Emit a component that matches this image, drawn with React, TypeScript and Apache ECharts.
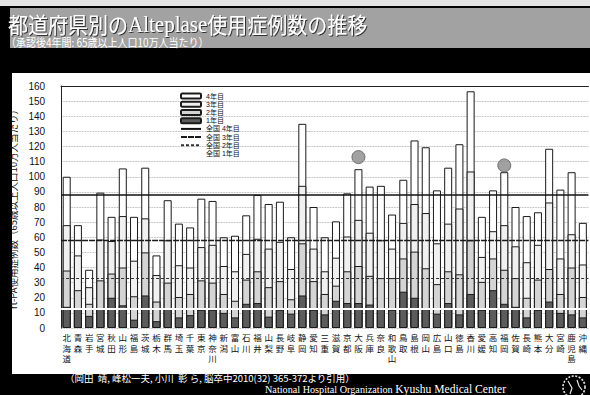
import { useEffect, useRef } from 'react';
import * as echarts from 'echarts';

// Prefectures in JIS order
const prefectures = [
  '北海道', '青森', '岩手', '宮城', '秋田', '山形', '福島', '茨城', '栃木', '群馬',
  '埼玉', '千葉', '東京', '神奈川', '新潟', '富山', '石川', '福井', '山梨', '長野',
  '岐阜', '静岡', '愛知', '三重', '滋賀', '京都', '大阪', '兵庫', '奈良', '和歌山',
  '鳥取', '島根', '岡山', '広島', '山口', '徳島', '香川', '愛媛', '高知', '福岡',
  '佐賀', '長崎', '熊本', '大分', '宮崎', '鹿児島', '沖縄',
];

// Cumulative cases per 100k population aged 65+, through each year after approval
const year1Cum = [
  14, 13, 8, 13, 20, 15, 5.5, 21.5, 4.5, 13,
  7, 8.5, 12, 12, 10, 7, 16, 16.5, 7.5, 12,
  9.5, 21.5, 12, 9, 18, 16.5, 16.5, 15.5, 13, 12,
  24, 20, 12.5, 9.5, 16.5, 9, 22.5, 12, 25, 16,
  14, 7, 12, 17.5, 10, 9, 7,
];
const year2Cum = [
  38, 25, 16, 31.5, 36, 40, 21, 50, 17.5, 30,
  20.5, 22.5, 31.5, 30, 22.5, 18, 32, 37.5, 27, 31,
  19, 56, 31, 22.5, 28, 37.5, 41, 34.5, 33, 33,
  46, 50.5, 39.5, 29, 37.5, 35.5, 58, 30.5, 46, 38.5,
  33, 20, 32, 39, 22.5, 40, 20.5,
];
const year3Cum = [
  68, 48, 27, 58.5, 57.5, 74, 44.5, 72.5, 35, 58,
  41.5, 40, 53.5, 55, 41, 37.5, 49, 59, 52.5, 57,
  39, 94, 52.5, 37.5, 46.5, 60.5, 71.5, 63, 58, 52.5,
  69.5, 82, 76, 56, 69, 79, 103.5, 47, 64, 68,
  54, 43.5, 55, 83, 46, 62, 42,
];
const year4Cum = [
  100, 68, 38.5, 89.5, 73.5, 105.5, 73.5, 106, 48, 84.5,
  69, 66.5, 85.5, 84, 60, 61, 74.5, 88, 82, 83.5,
  60, 135, 80, 60, 70.5, 89, 105, 93.5, 94, 75,
  98, 124, 119.5, 91, 106, 121.5, 156.5, 73.5, 91, 103,
  80, 74, 76.5, 118.5, 91.5, 103, 69.5,
];

// National averages (cumulative)
const nationalNames = ['全国 4年目', '全国 3年目', '全国 2年目', '全国 1年目'];
const nationalValues = [88, 58, 33, 13];

// Highlighted prefectures
const markedPrefectures = ['大阪', '福岡'];
const markedValues = [113, 107.5];

const yMin = 0;
const yMax = 160;
const yStep = 10;

const barNames = ['4年目', '3年目', '2年目', '1年目'];
const barSeriesData = [year4Cum, year3Cum, year2Cum, year1Cum];
const barFills = ['#ffffff', '#f0f0f0', '#d4d4d4', '#5c5c5c'];

const nationalStyles = [
  { color: '#111111', width: 1.5, type: 'solid' as const },
  { color: '#1a1a1a', width: 1.4, type: [6, 1] as number[] },
  { color: '#333333', width: 1, type: [3, 2] as number[] },
  { color: '#ffffff', width: 2.2, type: 'solid' as const },
];

const CJK = '"Noto Sans CJK JP", "Noto Sans", sans-serif';
const SANS = '"Liberation Sans", "Noto Sans CJK JP", sans-serif';
const SERIF = '"Liberation Serif", "Times New Roman", serif';

export default function App() {
  const ref = useRef<HTMLDivElement>(null);

  useEffect(() => {
    if (!ref.current) return;
    const chart = echarts.init(ref.current, undefined, { renderer: 'svg' });

    const bars = barNames.map((name, i) => ({
      name,
      type: 'bar',
      data: barSeriesData[i],
      barWidth: 8,
      barGap: '-100%',
      z: 2 + i * 0.01,
      itemStyle: { color: barFills[i], borderColor: '#1a1a1a', borderWidth: 1 },
      emphasis: { disabled: true },
    }));

    const nationals = nationalNames.map((name, i) => ({
      name,
      type: 'line',
      data: [],
      symbol: 'none',
      z: 5,
      itemStyle: { color: nationalStyles[i].color },
      lineStyle: {
        color: nationalStyles[i].color,
        width: nationalStyles[i].width,
        type: nationalStyles[i].type,
      },
      markLine: {
        silent: true,
        symbol: 'none',
        z: 5,
        label: { show: false },
        lineStyle: {
          color: nationalStyles[i].color,
          width: nationalStyles[i].width,
          type: nationalStyles[i].type,
        },
        data: [{ yAxis: nationalValues[i] }],
      },
    }));

    const shadow = {
      textShadowColor: '#333',
      textShadowOffsetX: 1,
      textShadowOffsetY: 1,
      textShadowBlur: 1,
    };

    chart.setOption({
      animation: false,
      backgroundColor: '#000000',
      textStyle: { fontFamily: CJK },
      grid: { left: 57, right: -2, top: 86, bottom: 67 },
      legend: {
        // line entries: plain line sample, no centre marker
        data: [
          ...barNames,
          ...nationalNames.map((name) => ({ name, itemStyle: { opacity: 0 } })),
        ],
        orient: 'vertical',
        left: 180,
        top: 92,
        padding: 0,
        itemWidth: 20,
        itemHeight: 5,
        itemGap: 0,
        selectedMode: false,
        textStyle: { fontSize: 7, lineHeight: 8.2, color: '#111', fontFamily: SANS },
      },
      xAxis: [
        {
          type: 'category',
          data: prefectures,
          axisLine: { show: false },
          axisTick: { show: false },
          axisLabel: {
            interval: 0,
            margin: 4,
            fontSize: 8.5,
            lineHeight: 10.5,
            color: '#111',
            fontFamily: CJK,
            verticalAlign: 'top',
            formatter: (v: string) => v.split('').join('\n'),
          },
        },
        {
          type: 'category',
          position: 'top',
          data: prefectures,
          axisLine: { show: true, lineStyle: { color: '#222', width: 1 } },
          axisTick: { show: false },
          axisLabel: { show: false },
        },
      ],
      yAxis: {
        type: 'value',
        min: yMin,
        max: yMax,
        interval: yStep,
        name: 'rt-PA使用症例数（65歳以上人口10万人当たり）',
        nameLocation: 'middle',
        nameRotate: 90,
        nameGap: 22,
        nameTextStyle: { fontSize: 9.5, color: '#111', fontFamily: CJK },
        axisLine: { show: true, lineStyle: { color: '#222', width: 1 } },
        axisTick: { show: false },
        axisLabel: { fontSize: 10, margin: 16, color: '#111', fontFamily: '"Liberation Sans", Arial, sans-serif' },
        splitLine: { lineStyle: { type: 'dotted', color: '#9a9a9a', width: 0.8 } },
      },
      series: [
        ...bars,
        ...nationals,
        {
          type: 'scatter',
          data: markedPrefectures.map((p, i) => [p, markedValues[i]]),
          symbolSize: 13,
          z: 6,
          itemStyle: { color: '#8a8a8a', borderColor: '#5a5a5a', borderWidth: 1 },
        },
      ],
      graphic: [
        { type: 'rect', z: -10, shape: { x: 0, y: 0, width: 590, height: 6 }, style: { fill: '#e2e2e2' } },
        { type: 'rect', z: -10, shape: { x: 10, y: 8, width: 580, height: 40 }, style: { fill: '#a2a2a2' } },
        { type: 'rect', z: -10, shape: { x: 12, y: 73, width: 578, height: 301 }, style: { fill: '#ffffff' } },
        {
          type: 'text',
          z: 10,
          x: 8,
          y: 24,
          scaleY: 1.1,
          style: {
            text: '{a|都道府県別の}{b|Alteplase}{a|使用症例数の推移}',
            verticalAlign: 'middle',
            rich: {
              a: { fontSize: 20, fontFamily: CJK, fill: '#ffffff', ...shadow },
              b: { fontSize: 21, fontFamily: SERIF, fill: '#ffffff', ...shadow },
            },
          },
        },
        {
          type: 'text',
          z: 10,
          x: 6,
          y: 42.5,
          scaleY: 1.15,
          style: {
            text: '（承認後4年間: 65歳以上人口10万人当たり）',
            verticalAlign: 'middle',
            fontSize: 10,
            fontFamily: CJK,
            fill: '#ffffff',
            textShadowColor: '#333',
            textShadowOffsetX: 0.6,
            textShadowOffsetY: 0.6,
          },
        },
        {
          type: 'text',
          z: 10,
          x: 65,
          y: 378,
          style: {
            text: '（岡田  靖, 峰松一夫, 小川  彰 ら, 脳卒中2010(32) 365-372より引用）',
            verticalAlign: 'middle',
            fontSize: 9.5,
            lineHeight: 9,
            fontFamily: CJK,
            fill: '#ffffff',
          },
        },
        {
          type: 'text',
          z: 10,
          x: 265,
          y: 394.3,
          style: {
            text: '{n|National Hospital Organization }{k|Kyushu Medical Center}',
            verticalAlign: 'bottom',
            rich: {
              n: { fontSize: 10.2, lineHeight: 9.5, fontFamily: SERIF, fill: '#ffffff' },
              k: { fontSize: 11.6, lineHeight: 9.5, fontFamily: SERIF, fill: '#ffffff' },
            },
          },
        },
        {
          type: 'circle',
          z: 10,
          shape: { cx: 574, cy: 387, r: 11 },
          style: { fill: 'none', stroke: '#e8e8e8', lineWidth: 1.6, lineDash: [2, 1.5] },
        },
        {
          type: 'polyline',
          z: 10,
          shape: { points: [[568, 381], [572, 388], [570, 394]] },
          style: { fill: 'none', stroke: '#e8e8e8', lineWidth: 1.2 },
        },
        {
          type: 'polyline',
          z: 10,
          shape: { points: [[577, 380], [579, 386], [582, 390]] },
          style: { fill: 'none', stroke: '#e8e8e8', lineWidth: 1.2 },
        },
      ],
    });

    return () => chart.dispose();
  }, []);

  return (
    <div
      ref={ref}
      style={{ position: 'fixed', left: 0, top: 0, width: 590, height: 395 }}
    />
  );
}
